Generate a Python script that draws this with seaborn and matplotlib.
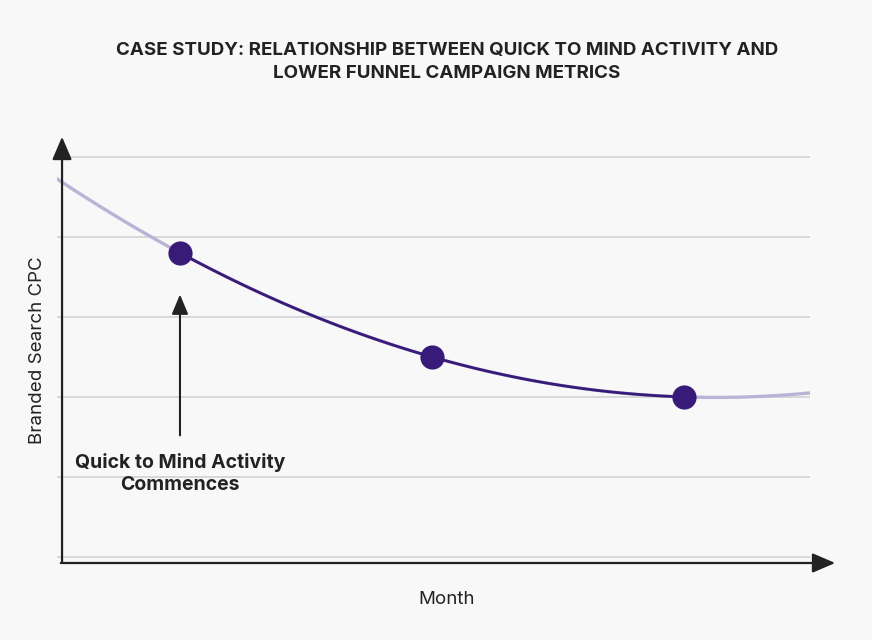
import numpy as np
import pandas as pd
import matplotlib
matplotlib.use("Agg")
import matplotlib.pyplot as plt
import seaborn as sns

# values (no tick labels shown in the original)
months = [1, 2, 3]
cpc = [3.8, 2.5, 2.0]
grid_levels = [0, 1, 2, 3, 4, 5]

title = "CASE STUDY: RELATIONSHIP BETWEEN QUICK TO MIND ACTIVITY AND\nLOWER FUNNEL CAMPAIGN METRICS"
note = "Quick to Mind Activity\nCommences"

df = pd.DataFrame({"month": months, "cpc": cpc})

sns.set_style("white")
plt.rcParams["font.family"] = ["Inter", "DejaVu Sans"]

bg = "#f8f8f8"
dark = "#381b78"
light = "#bbb2d6"
ink = "#222222"

fig = plt.figure(figsize=(8.72, 6.4), dpi=100, facecolor=bg)
ax = fig.add_axes([57 / 872, 77 / 640, 753 / 872, 423 / 640])
ax.set_facecolor(bg)

x_lo, x_hi = 0.512, 3.5
y_lo, y_hi = -0.075, 5.21
ax.set_xlim(x_lo, x_hi)
ax.set_ylim(y_lo, y_hi)

ax.set_yticks(grid_levels)
ax.set_xticks([])
ax.yaxis.grid(True, color="#d2d2d2", lw=1.2)
ax.tick_params(left=False, labelleft=False)
for s in ax.spines.values():
    s.set_visible(False)

# quadratic trend over full width, then the fitted line between the observed months
sns.regplot(data=df, x="month", y="cpc", order=2, ci=None, truncate=False,
            scatter=False, line_kws={"color": light, "lw": 2.4, "zorder": 3}, ax=ax)
sns.regplot(data=df, x="month", y="cpc", order=2, ci=None, truncate=True,
            scatter=False, line_kws={"color": dark, "lw": 2.0, "zorder": 4}, ax=ax)
sns.scatterplot(data=df, x="month", y="cpc", s=260, color=dark, edgecolor=dark,
                zorder=5, ax=ax, legend=False)
ax.set_xlim(x_lo, x_hi)
ax.set_ylim(y_lo, y_hi)
ax.set_xlabel("")
ax.set_ylabel("")

# axis arrows
x0 = 0.532
arr = dict(arrowstyle="-|>,head_length=0.7,head_width=0.3", color=ink, lw=1.6,
           mutation_scale=20, shrinkA=0, shrinkB=0)
ax.annotate("", xy=(x0, y_hi + 0.04), xytext=(x0, y_lo), arrowprops=arr, annotation_clip=False)
ax.annotate("", xy=(3.6, y_lo), xytext=(x0 - 0.005, y_lo), arrowprops=arr, annotation_clip=False)

# annotation arrow under first point
ax.annotate("", xy=(months[0], 3.28), xytext=(months[0], 1.52),
            arrowprops=dict(arrowstyle="-|>,head_length=0.6,head_width=0.25", color=ink,
                            lw=1.5, mutation_scale=20, shrinkA=0, shrinkB=0))
ax.text(months[0], 1.30, note, ha="center", va="top", fontsize=14, fontweight="bold",
        color=ink, linespacing=1.28)

fig.text(447 / 872, 1 - 62 / 640, title, ha="center", va="center", fontsize=13.5,
         fontweight="bold", color=ink, linespacing=1.5)
fig.text(37.5 / 872, 1 - 350 / 640, "Branded Search CPC", rotation=90, ha="center",
         va="center", fontsize=13.5, color=ink)
fig.text(447 / 872, 1 - 599 / 640, "Month", ha="center", va="center", fontsize=13.5,
         color=ink)

fig.savefig("out.png", dpi=100, facecolor=bg)
